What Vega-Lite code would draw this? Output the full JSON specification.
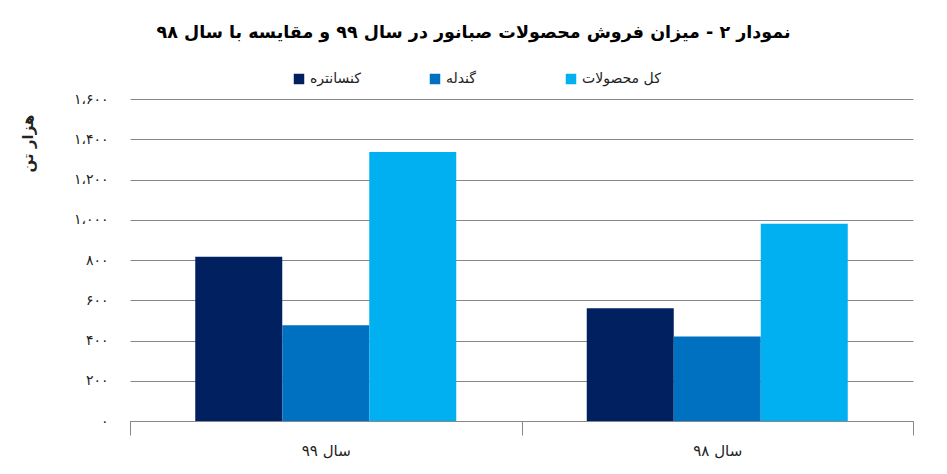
{
  "$schema": "https://vega.github.io/schema/vega-lite/v6.json",
  "autosize": {"type": "none"},
  "width": 783,
  "height": 322,
  "padding": {"left": 130, "top": 99, "right": 34, "bottom": 53},
  "background": "white",
  "title": {
    "text": "نمودار ۲ - میزان فروش محصولات صبانور در سال ۹۹ و مقایسه با سال ۹۸",
    "font": "DejaVu Sans",
    "fontSize": 17.5,
    "fontWeight": "bold",
    "color": "#000000",
    "anchor": "middle",
    "dx": -48,
    "offset": 31
  },
  "data": {
    "values": [
      {"year": "سال ۹۹", "product": "کنسانتره", "tons": 816},
      {"year": "سال ۹۹", "product": "گندله", "tons": 476},
      {"year": "سال ۹۹", "product": "کل محصولات", "tons": 1337},
      {"year": "سال ۹۸", "product": "کنسانتره", "tons": 560},
      {"year": "سال ۹۸", "product": "گندله", "tons": 420},
      {"year": "سال ۹۸", "product": "کل محصولات", "tons": 980}
    ]
  },
  "mark": {"type": "bar"},
  "encoding": {
    "x": {
      "field": "year",
      "type": "nominal",
      "sort": null,
      "scale": {"paddingInner": 0, "paddingOuter": 0},
      "axis": {
        "title": null,
        "labelAngle": 0,
        "labelFont": "DejaVu Sans",
        "labelFontSize": 15,
        "labelColor": "#222222",
        "labelPadding": 8,
        "domainColor": "#878787",
        "tickColor": "#878787",
        "tickBand": "extent",
        "tickSize": 14
      }
    },
    "xOffset": {
      "field": "product",
      "sort": ["کنسانتره", "گندله", "کل محصولات"],
      "scale": {"paddingInner": 0, "paddingOuter": 0.75}
    },
    "y": {
      "field": "tons",
      "type": "quantitative",
      "scale": {"domain": [0, 1600]},
      "axis": {
        "title": "هزار تن",
        "titleFont": "DejaVu Sans",
        "titleFontSize": 15,
        "titleFontWeight": "bold",
        "titleColor": "#222222",
        "titleAnchor": "end",
        "titleY": 15,
        "titlePadding": 38,
        "values": [0, 200, 400, 600, 800, 1000, 1200, 1400, 1600],
        "labelExpr": "datum.value == 0 ? '۰' : datum.value == 200 ? '۲۰۰' : datum.value == 400 ? '۴۰۰' : datum.value == 600 ? '۶۰۰' : datum.value == 800 ? '۸۰۰' : datum.value == 1000 ? '۱،۰۰۰' : datum.value == 1200 ? '۱،۲۰۰' : datum.value == 1400 ? '۱،۴۰۰' : '۱،۶۰۰'",
        "labelFont": "DejaVu Sans",
        "labelFontSize": 14,
        "labelColor": "#222222",
        "labelPadding": 22,
        "domain": false,
        "ticks": false,
        "gridColor": "#878787",
        "gridWidth": 1
      }
    },
    "color": {
      "field": "product",
      "type": "nominal",
      "scale": {
        "domain": ["کنسانتره", "گندله", "کل محصولات"],
        "range": ["#002060", "#0070C0", "#00B0F0"]
      },
      "legend": {
        "title": null,
        "orient": "none",
        "direction": "horizontal",
        "legendX": 162,
        "legendY": -27,
        "gridAlign": "all",
        "symbolType": "square",
        "symbolSize": 110,
        "symbolStrokeWidth": 0,
        "symbolOpacity": 1,
        "labelFont": "DejaVu Sans",
        "labelFontSize": 14,
        "labelColor": "#222222",
        "columnPadding": 39
      }
    }
  },
  "config": {
    "view": {"stroke": null}
  }
}
